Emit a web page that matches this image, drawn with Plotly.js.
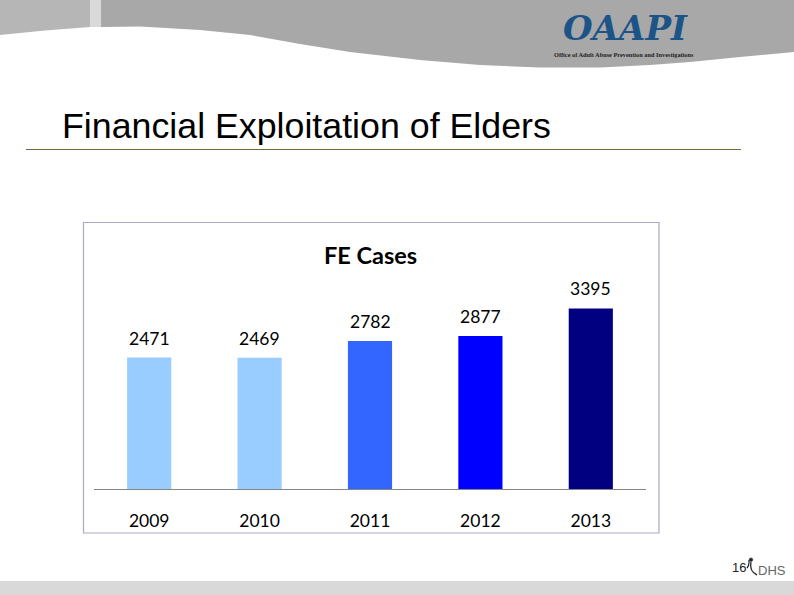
<!DOCTYPE html>
<html><head><meta charset="utf-8">
<script src="https://cdn.plot.ly/plotly-3.0.1.min.js"></script>
<style>html,body{margin:0;padding:0;background:#fff}#c{width:794px;height:595px}</style></head>
<body><div id="c"></div>
<script>
const years = ['2009','2010','2011','2012','2013'];
const cases = [2471,2469,2782,2877,3395];
const barColors = ['#99ccff','#99ccff','#3366ff','#0000ff','#000080'];
const pageTitle = 'Financial Exploitation of Elders';
const chartTitle = 'FE Cases';

const W=794,H=595;
const px=x=>x/W, py=y=>1-y/H;
const rect=(x0,y0,x1,y1,fill,line,lw)=>({type:'rect',xref:'paper',yref:'paper',x0:px(x0),x1:px(x1),y0:py(y0),y1:py(y1),fillcolor:fill,line:{color:line||fill,width:lw||0},layer:'below'});
const poly=(pts,fill)=>({type:'path',xref:'paper',yref:'paper',layer:'below',fillcolor:fill,line:{width:0},
  path:'M'+pts.map(p=>px(p[0]).toFixed(5)+','+py(p[1]).toFixed(5)).join(' L')+' Z'});
const curve=[[0,35],[20,33],[45,30.5],[90,27],[140,26.5],[200,30],[250,35],[300,44],[350,52],[420,60],[480,65],[540,67.5],[600,67.5],[650,65],[690,62],[740,57],[794,52]];
const hdr=(x0,x1,fill)=>{
  const inner=curve.filter(p=>p[0]>x0&&p[0]<x1);
  const yAt=x=>{for(let i=1;i<curve.length;i++){if(x<=curve[i][0]){const a=curve[i-1],b=curve[i];return a[1]+(b[1]-a[1])*(x-a[0])/(b[0]-a[0]);}}return 52;};
  return poly([[x0,0],[x1,0],[x1,yAt(x1)],...inner.slice().reverse(),[x0,yAt(x0)]],fill);
};
const shapes=[
  hdr(0,90,'#b6b6b6'),hdr(90,101,'#d9d9d9'),hdr(101,794,'#a8a8a8'),
  rect(0,581,794,595,'#d9d9d9'),
  {type:'line',xref:'paper',yref:'paper',x0:px(26),x1:px(741),y0:py(149.5),y1:py(149.5),line:{color:'#6b6b3c',width:1},layer:'below'},
  rect(83.5,222.5,659,533,'#ffffff','#a9a9cc',1.2),
  {type:'circle',xref:'paper',yref:'paper',x0:px(749.2),x1:px(752.8),y0:py(561.5),y1:py(557.9),fillcolor:'#222',line:{color:'#222',width:0.5}},
  {type:'path',xref:'paper',yref:'paper',line:{color:'#222',width:1.2},
   path:`M${px(747)},${py(568)} Q${px(749.5)},${py(565)} ${px(749)},${py(560)}`},
  {type:'path',xref:'paper',yref:'paper',line:{color:'#333',width:1.4},
   path:`M${px(751)},${py(562)} Q${px(749)},${py(571)} ${px(757)},${py(575)}`}
];
const note=(x,y,text,size,color,fam,extra)=>Object.assign({xref:'paper',yref:'paper',x:px(x),y:py(y),text,showarrow:false,
  xanchor:'left',yanchor:'middle',font:{size,color,family:fam}},extra||{});
const annotations=[
  note(59.5,125.5,pageTitle,35.75,'#000','"Liberation Sans"'),
  note(370,255,'<b>'+chartTitle+'</b>',23.5,'#000','Lato',{xanchor:'center'}),
  note(561,28,'<b><i>OAAPI</i></b>',34,'#1c5488','"DejaVu Serif"'),
  note(552,54,'<b>Office of Adult Abuse Prevention and Investigations</b>',6.3,'#222','"Liberation Serif"'),
  note(730,567.5,'16',13,'#222','"Liberation Sans"'),
  note(755.5,570,'DHS',13,'#666','"Liberation Sans"'),
  ...years.map((y,i)=>({x:i,y:cases[i],xref:'x',yref:'y',text:String(cases[i]),showarrow:false,yanchor:'bottom',yshift:7,
    font:{size:17.5,color:'#000',family:'Lato'}}))
];
Plotly.newPlot('c',[{type:'bar',x:years,y:cases,width:0.4,marker:{color:barColors,line:{width:0}},hoverinfo:'x+y'}],{
  width:W,height:H,margin:{l:0,r:0,t:0,b:0},paper_bgcolor:'#fff',plot_bgcolor:'rgba(0,0,0,0)',showlegend:false,
  xaxis:{type:'category',domain:[px(94),px(646)],range:[-0.5,4.5],anchor:'y',showgrid:false,zeroline:false,showline:true,linecolor:'#868686',linewidth:1,
    ticks:'outside',ticklen:16,tickcolor:'rgba(0,0,0,0)',tickfont:{size:17.5,color:'#000',family:'Lato'}},
  yaxis:{domain:[py(489),py(280)],range:[0,3929],showgrid:false,zeroline:false,showticklabels:false,ticks:'',showline:false},
  shapes,annotations
},{displayModeBar:false,staticPlot:true});
</script></body></html>
